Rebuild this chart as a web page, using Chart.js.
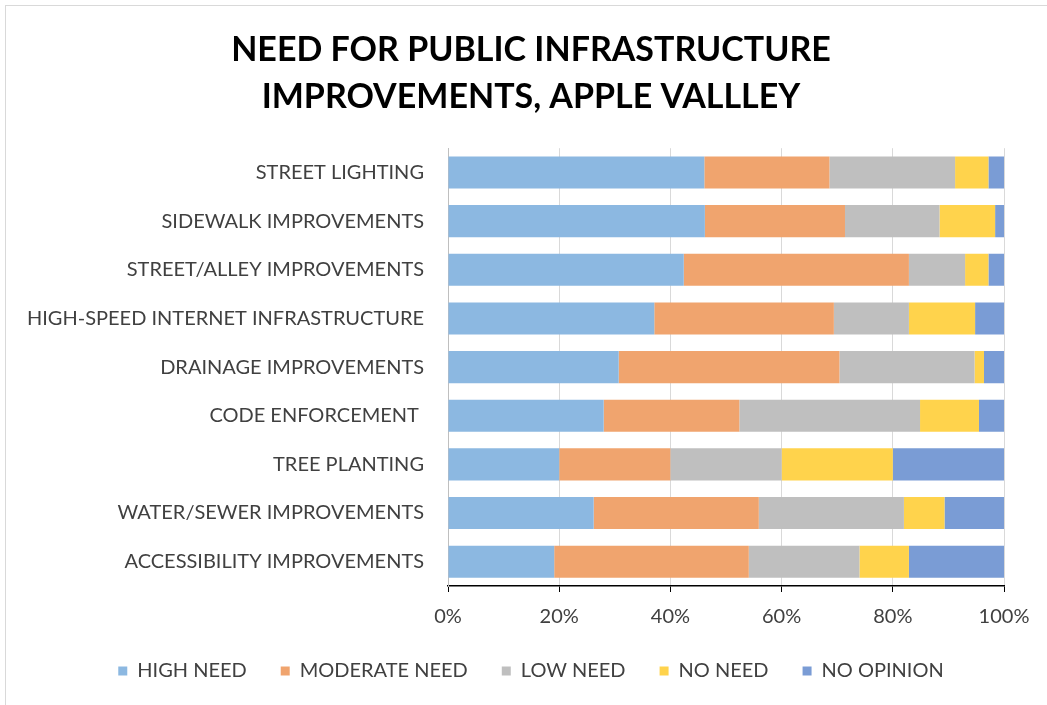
<!DOCTYPE html>
<html>
<head>
<meta charset="utf-8">
<script src="https://cdn.jsdelivr.net/npm/chart.js@4"></script>
<style>
  html, body { margin: 0; padding: 0; background: #fff; }
  #wrap { position: relative; width: 1047px; height: 705px; overflow: hidden; }
  #frame { position: absolute; left: 5px; top: 5px; width: 1100px; height: 800px;
           border-left: 1px solid #d9d9d9; border-top: 1px solid #d9d9d9; }
  canvas { position: absolute; left: 0; top: 0; }
</style>
</head>
<body>
<div id="wrap">
  <div id="frame"></div>
  <canvas id="chart" width="1047" height="705"></canvas>
</div>
<script>
// survey answers per improvement, share of respondents in %
var categories = [
  'STREET LIGHTING',
  'SIDEWALK IMPROVEMENTS',
  'STREET/ALLEY IMPROVEMENTS',
  'HIGH-SPEED INTERNET INFRASTRUCTURE',
  'DRAINAGE IMPROVEMENTS',
  'CODE ENFORCEMENT ',
  'TREE PLANTING',
  'WATER/SEWER IMPROVEMENTS',
  'ACCESSIBILITY IMPROVEMENTS'
];
var highNeed     = [46.1, 46.2, 42.4, 37.1, 30.7, 28.0, 20.0, 26.2, 19.1];
var moderateNeed = [22.5, 25.2, 40.5, 32.3, 39.7, 24.4, 20.0, 29.7, 35.0];
var lowNeed      = [22.6, 17.0, 10.1, 13.5, 24.3, 32.5, 20.0, 26.1, 19.9];
var noNeed       = [ 6.0, 10.0,  4.2, 11.9,  1.7, 10.6, 20.0,  7.3,  8.9];
var noOpinion    = [ 2.8,  1.6,  2.8,  5.2,  3.6,  4.5, 20.0, 10.7, 17.1];
var xTicks = [0, 20, 40, 60, 80, 100];

var FONT = 'Lato, "Open Sans", sans-serif';

function series(label, values, color) {
  return {
    label: label,
    data: values,
    backgroundColor: color,
    borderWidth: 0,
    barPercentage: 0.66,
    categoryPercentage: 1.0
  };
}

// let tick labels spill outside their axis box instead of being clipped
function noLabelClip(scale) {
  scale._computeLabelArea = function () { return undefined; };
}

const ctx = document.getElementById('chart').getContext('2d');

new Chart(ctx, {
  type: 'bar',
  data: {
    labels: categories,
    datasets: [
      series('HIGH NEED', highNeed, '#8cb8e1'),
      series('MODERATE NEED', moderateNeed, '#f0a46e'),
      series('LOW NEED', lowNeed, '#bfbfbf'),
      series('NO NEED', noNeed, '#ffd34c'),
      series('NO OPINION', noOpinion, '#7a9cd5')
    ]
  },
  options: {
    indexAxis: 'y',
    responsive: false,
    animation: false,
    layout: { padding: { top: 26, right: 43, bottom: 14, left: 58 } },
    plugins: {
      title: {
        display: true,
        text: ['NEED FOR PUBLIC INFRASTRUCTURE', 'IMPROVEMENTS, APPLE VALLLEY'],
        color: '#000',
        font: { family: FONT, size: 34, weight: 'bold', lineHeight: 1.4 },
        padding: { top: 0, bottom: 27 }
      },
      legend: {
        position: 'bottom',
        labels: {
          color: '#404040',
          font: { family: FONT, size: 20 },
          boxWidth: 9,
          boxHeight: 9,
          padding: 34
        }
      },
      tooltip: { enabled: false }
    },
    scales: {
      x: {
        stacked: true,
        min: 0,
        max: 100,
        afterBuildTicks: function (scale) {
          scale.ticks = xTicks.map(function (v) { return { value: v }; });
        },
        afterFit: function (scale) {
          scale.height = 41;
          noLabelClip(scale);
        },
        ticks: {
          color: '#404040',
          font: { family: FONT, size: 20 },
          padding: 13,
          callback: function (v) { return v + '%'; }
        },
        grid: { color: '#d9d9d9', tickColor: '#000', tickLength: 6 },
        border: { color: '#000', width: 1.5 }
      },
      y: {
        stacked: true,
        afterFit: function (scale) {
          scale.width = 390;
          noLabelClip(scale);
        },
        ticks: {
          color: '#404040',
          font: { family: FONT, size: 20 },
          padding: 24
        },
        grid: { display: false, drawTicks: false },
        border: { color: '#bfbfbf', width: 1 }
      }
    }
  }
});
</script>
</body>
</html>
